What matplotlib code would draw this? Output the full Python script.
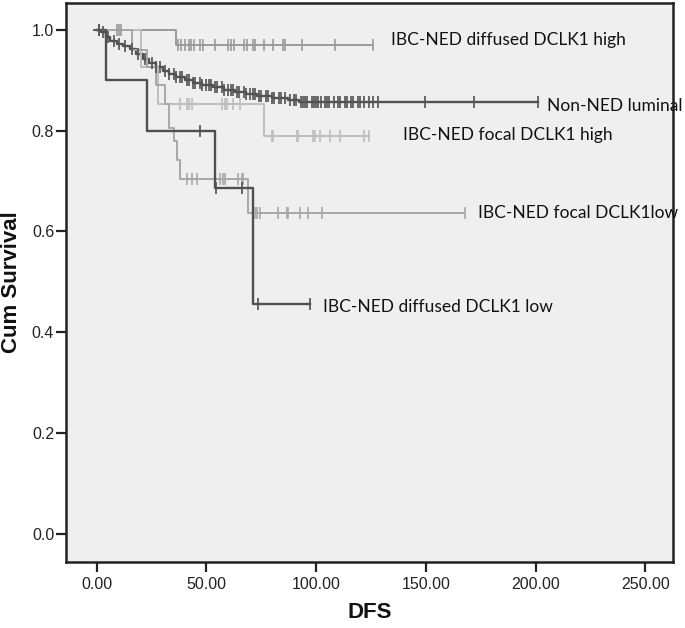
import numpy as np
import matplotlib
matplotlib.use("Agg")
import matplotlib.pyplot as plt

# ---- data ----
# step functions: event times and survival after each event, plus censor times
lum_t = [2, 4, 6, 9, 12, 15, 18, 21, 24, 27, 30, 33, 36, 40, 44, 48, 53, 58, 63, 68, 73, 80, 87, 92]
lum_s = [0.995, 0.985, 0.978, 0.972, 0.967, 0.961, 0.951, 0.941, 0.933, 0.925, 0.917, 0.912, 0.907,
         0.901, 0.895, 0.891, 0.887, 0.881, 0.877, 0.872, 0.869, 0.865, 0.861, 0.856]
lum_c = [3, 5, 8, 10, 13, 16, 19, 22, 25, 27, 29, 31, 33, 35, 36, 38, 39, 41, 42, 44, 45, 47, 48,
         50, 51, 52, 54, 55, 57, 58, 60, 61, 62, 64, 65, 67, 68, 70, 71, 72, 74, 75, 77, 78, 80, 81,
         83, 84, 86, 88, 90, 91, 93, 94, 95, 96, 98, 99, 100, 101, 102, 104, 105, 106, 108, 110, 111,
         113, 114, 116, 117, 119, 120, 122, 124, 126, 128, 149.5, 172, 201]

dh_t = [36]
dh_s = [0.97]
dh_c = [9, 10, 11, 37, 38.5, 40, 42, 43, 44.5, 47, 48.6, 54, 60, 61, 62.5, 67, 68.5, 71, 72, 76,
        80.5, 85, 86, 93.5, 108.5, 126]

fh_t = [20, 28, 76]
fh_s = [0.925, 0.853, 0.79]
fh_c = [38, 41, 42, 43.3, 57, 58.5, 59.3, 62.3, 65.3, 79.7, 80.5, 91.1, 91.8, 98.7, 99.5, 101.7,
        106.3, 111, 122, 124]

fl_t = [16, 23, 27, 31, 33, 35, 36.5, 38, 69]
fl_s = [0.96, 0.925, 0.89, 0.852, 0.805, 0.78, 0.742, 0.704, 0.636]
fl_c = [41, 43.3, 45.6, 56.2, 57.7, 58.5, 64.5, 66, 66.8, 72, 73, 74.4, 82.7, 86.6, 87.3, 92.6,
        96.4, 102.5, 168]

dl_t = [4, 23, 54, 71]
dl_s = [0.9, 0.8, 0.686, 0.457]
dl_c = [47, 54.3, 66, 73.6, 97.2]

labels = ["IBC-NED diffused DCLK1 high", "Non-NED luminal", "IBC-NED focal DCLK1 high",
          "IBC-NED focal DCLK1low", "IBC-NED diffused DCLK1 low"]
label_xy = [(134.2, 0.979), (205.3, 0.849), (139.7, 0.791), (173.9, 0.636), (103.0, 0.450)]

xticks = [0, 50, 100, 150, 200, 250]
yticks = [0.0, 0.2, 0.4, 0.6, 0.8, 1.0]

# ---- drawing ----
fig = plt.figure(figsize=(6.85, 6.28), dpi=100)
ax = fig.add_axes([0.0964, 0.105, 0.886, 0.890])
ax.set_facecolor("#efefef")

series = [
    (dh_t, dh_s, dh_c, "#9a9a9a", 1.4),
    (lum_t, lum_s, lum_c, "#525252", 1.7),
    (fh_t, fh_s, fh_c, "#bdbdbd", 1.4),
    (fl_t, fl_s, fl_c, "#a8a8a8", 1.4),
    (dl_t, dl_s, dl_c, "#4f4f4f", 1.7),
]
for t, s, c, col, lw in series:
    c = np.asarray(c, dtype=float)
    xs = np.concatenate([[0.0], t, [c.max()]])
    ys = np.concatenate([[1.0], s, [s[-1]]])
    ax.step(xs, ys, where="post", color=col, lw=lw, zorder=2)
    idx = np.searchsorted(np.asarray(t, dtype=float), c, side="right")
    sv = np.concatenate([[1.0], s])[idx]
    ax.plot(c, sv, ls="none", marker="|", ms=9, mew=1.2, color=col, zorder=3)
    ax.plot([0.8], [1.0], ls="none", marker="+", ms=8, mew=1.2, color=col, zorder=3)

for lab, (x, y) in zip(labels, label_xy):
    ax.text(x, y, lab, fontsize=12.5, family="Lato", color="#111111", va="center", ha="left")

ax.set_xlim(-14, 262.6)
ax.set_ylim(-0.0555, 1.0525)
ax.set_xticks(xticks)
ax.set_xticklabels([f"{v:.2f}" for v in xticks])
ax.set_yticks(yticks)
ax.set_yticklabels([f"{v:.1f}" for v in yticks])
ax.tick_params(direction="out", length=7, width=1.6, color="#222222", labelsize=11.5,
               labelcolor="#222222")
ax.tick_params(axis="y", pad=1.5)
ax.tick_params(axis="x", pad=4)
for lab in ax.get_xticklabels() + ax.get_yticklabels():
    lab.set_family("Liberation Sans")
for sp in ax.spines.values():
    sp.set_linewidth(1.8)
    sp.set_color("#222222")

ax.set_xlabel("DFS", fontsize=16, fontweight="bold", family="Liberation Sans", color="#111111")
ax.set_ylabel("Cum Survival", fontsize=16, fontweight="bold", family="Liberation Sans", color="#111111")
ax.xaxis.set_label_coords(0.50, -0.091)
ax.yaxis.set_label_coords(-0.090, 0.5)
ax.xaxis.label.set_va("center")
ax.yaxis.label.set_va("center")

fig.savefig("out.png", dpi=100)
